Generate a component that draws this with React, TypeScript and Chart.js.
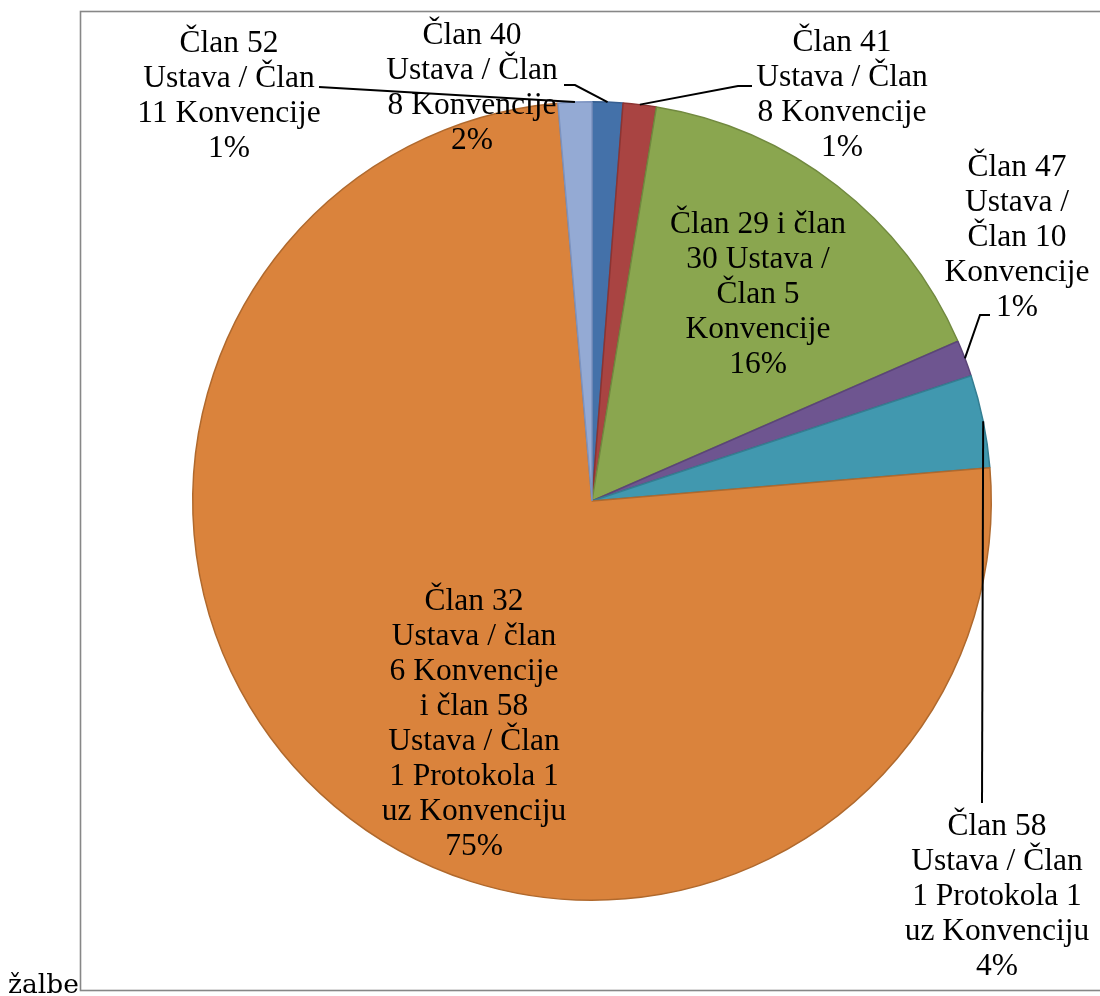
import React, { useEffect, useRef } from "react";
import { Chart, registerables } from "chart.js";

Chart.register(...registerables);

// Category names, already wrapped the way the reference wraps them
const categories: string[][] = [
  ["Član 40", "Ustava / Član", "8 Konvencije"],
  ["Član 41", "Ustava / Član", "8 Konvencije"],
  ["Član 29 i član", "30 Ustava /", "Član 5", "Konvencije"],
  ["Član 47", "Ustava /", "Član 10", "Konvencije"],
  ["Član 58", "Ustava / Član", "1 Protokola 1", "uz Konvenciju"],
  [
    "Član 32",
    "Ustava / član",
    "6 Konvencije",
    "i član 58",
    "Ustava / Član",
    "1 Protokola 1",
    "uz Konvenciju",
  ],
  ["Član 52", "Ustava / Član", "11 Konvencije"],
];

// Share of each slice (percent)
const shares: number[] = [1.24, 1.34, 15.87, 1.47, 3.75, 74.97, 1.36];

// Percent texts as printed in the data labels
const percentLabels: string[] = ["2%", "1%", "16%", "1%", "4%", "75%", "1%"];

const leftTitle = "žalbe";

// Styles
const fillColors: string[] = [
  "#4471A9",
  "#A94442",
  "#8AA64F",
  "#6E5590",
  "#4198AF",
  "#DA833C",
  "#94AAD4",
];
const borderColors: string[] = [
  "#375F91",
  "#8C3432",
  "#71893F",
  "#5B4578",
  "#347E92",
  "#B0692D",
  "#7C93C0",
];

// Label layout: centre of each label block relative to pie centre (px)
const labelOffsets: [number, number][] = [
  [-120, -413],
  [250, -405.5],
  [166, -206],
  [425, -263.5],
  [405, 396],
  [-118, 223.5],
  [-363, -405],
];

// Leader lines: start point relative to label centre, plus horizontal stub
const leaders: ({ ax: number; ay: number; stub: number } | null)[] = [
  { ax: 92, ay: -3, stub: 11 },
  { ax: -90, ay: -9.5, stub: -14 },
  null,
  { ax: -27, ay: 77.5, stub: -10 },
  { ax: -15, ay: -94, stub: 0 },
  null,
  { ax: 90, ay: -9, stub: 0 },
];

const LABEL_FONT = '31.5px "Liberation Serif", "Times New Roman", serif';
const LINE_HEIGHT = 35;

const decorPlugin = {
  id: "decor",
  beforeDraw(chart: any) {
    const ctx = chart.ctx as CanvasRenderingContext2D;
    ctx.save();
    ctx.fillStyle = "#ffffff";
    ctx.fillRect(0, 0, chart.width, chart.height);
    ctx.strokeStyle = "#878787";
    ctx.lineWidth = 1.6;
    ctx.strokeRect(80.5, 11.5, chart.width + 20, 979);
    ctx.fillStyle = "#000000";
    ctx.font = '26.5px "DejaVu Serif", serif';
    ctx.textAlign = "left";
    ctx.textBaseline = "alphabetic";
    ctx.fillText(leftTitle, 8, 993);
    ctx.restore();
  },
  afterDatasetsDraw(chart: any) {
    const ctx = chart.ctx as CanvasRenderingContext2D;
    const meta = chart.getDatasetMeta(0);
    ctx.save();
    meta.data.forEach((arc: any, i: number) => {
      const p = arc.getProps(
        ["x", "y", "startAngle", "endAngle", "outerRadius"],
        true
      );
      const mid = (p.startAngle + p.endAngle) / 2;
      const rimX = p.x + Math.cos(mid) * p.outerRadius;
      const rimY = p.y + Math.sin(mid) * p.outerRadius;
      const lx = p.x + labelOffsets[i][0];
      const ly = p.y + labelOffsets[i][1];
      const ld = leaders[i];
      if (ld) {
        ctx.beginPath();
        ctx.strokeStyle = "#000000";
        ctx.lineWidth = 2;
        const sx = lx + ld.ax;
        const sy = ly + ld.ay;
        ctx.moveTo(sx, sy);
        if (ld.stub) ctx.lineTo(sx + ld.stub, sy);
        ctx.lineTo(rimX, rimY);
        ctx.stroke();
      }
    });
    meta.data.forEach((arc: any, i: number) => {
      const p = arc.getProps(["x", "y"], true);
      const lx = p.x + labelOffsets[i][0];
      const ly = p.y + labelOffsets[i][1];
      const lines = [...categories[i], percentLabels[i]];
      ctx.font = LABEL_FONT;
      ctx.fillStyle = "#000000";
      ctx.textAlign = "center";
      ctx.textBaseline = "middle";
      const n = lines.length;
      lines.forEach((t, k) => {
        ctx.fillText(t, lx, ly + (k - (n - 1) / 2) * LINE_HEIGHT);
      });
    });
    ctx.restore();
  },
};

export default function App() {
  const canvasRef = useRef<HTMLCanvasElement | null>(null);

  useEffect(() => {
    if (!canvasRef.current) return;
    const chart = new Chart(canvasRef.current, {
      type: "pie",
      data: {
        labels: categories.map((c) => c.join(" ")),
        datasets: [
          {
            data: shares,
            backgroundColor: fillColors,
            borderColor: borderColors,
            borderWidth: 1.5,
          },
        ],
      },
      options: {
        responsive: false,
        animation: false,
        devicePixelRatio: 1,
        layout: {
          padding: { left: 192, top: 101, right: 108, bottom: 95 },
        },
        plugins: {
          legend: { display: false },
          tooltip: { enabled: false },
        },
      },
      plugins: [decorPlugin],
    });
    return () => chart.destroy();
  }, []);

  return (
    <div style={{ position: "absolute", left: 0, top: 0, width: 1100, height: 996 }}>
      <canvas ref={canvasRef} width={1100} height={996} />
    </div>
  );
}
